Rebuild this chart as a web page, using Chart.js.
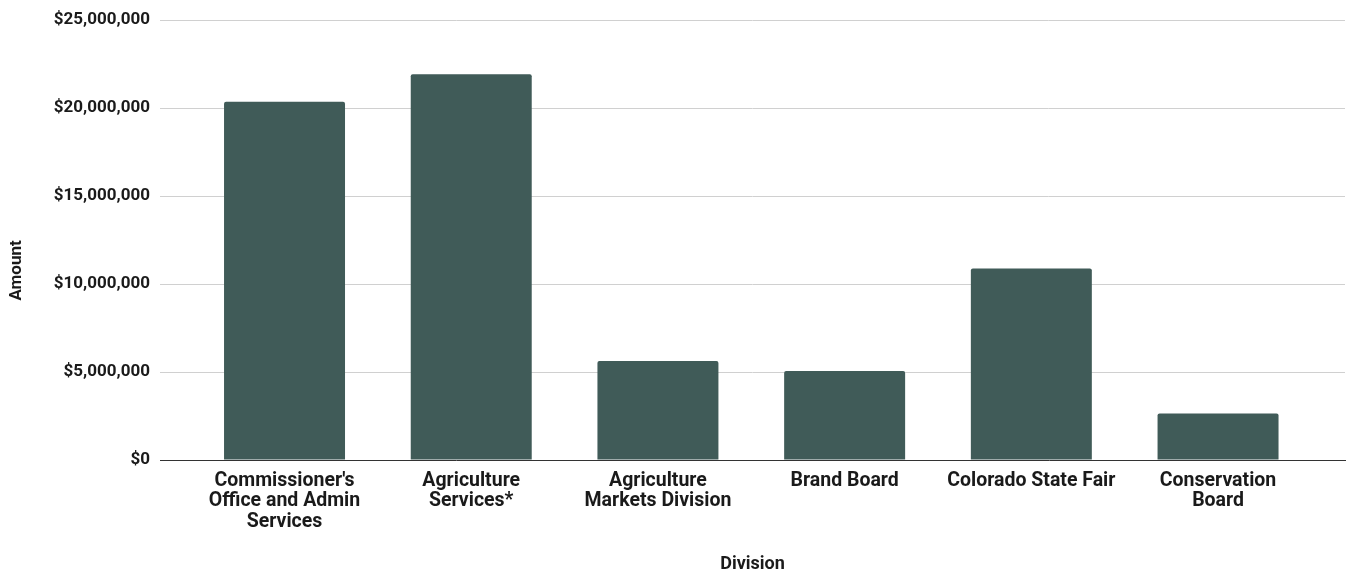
<!DOCTYPE html>
<html>
<head>
<meta charset="utf-8">
<script src="https://cdn.jsdelivr.net/npm/chart.js@4/dist/chart.umd.min.js"></script>
<style>
  html, body { margin: 0; padding: 0; background: #ffffff; }
  #wrap { width: 1348px; height: 573px; position: relative; }
</style>
</head>
<body>
<div id="wrap"><canvas id="c"></canvas></div>
<script>
const categories = [
  ["Commissioner's", "Office and Admin", "Services"],
  ["Agriculture", "Services*"],
  ["Agriculture", "Markets Division"],
  ["Brand Board"],
  ["Colorado State Fair"],
  ["Conservation", "Board"]
];
const amounts = [20370000, 21930000, 5630000, 5060000, 10890000, 2650000];
const yTicks = [0, 5000000, 10000000, 15000000, 20000000, 25000000];

const FONT = "Roboto, 'Liberation Sans', sans-serif";
const TEXT = '#1a1a1a';

new Chart(document.getElementById('c'), {
  type: 'bar',
  data: {
    datasets: [{
      label: 'Amount',
      data: amounts.map((v, i) => ({ x: i, y: v })),
      backgroundColor: '#405b58',
      borderRadius: 2,
      borderSkipped: 'start',
      categoryPercentage: 1,
      barPercentage: 0.648
    }]
  },
  options: {
    responsive: true,
    maintainAspectRatio: false,
    animation: false,
    layout: { padding: { top: 20, right: 3, bottom: 0, left: 0 } },
    plugins: { legend: { display: false }, tooltip: { enabled: false } },
    scales: {
      x: {
        type: 'linear',
        min: -0.667,
        max: 5.68,
        offset: false,
        afterBuildTicks: s => { s.ticks = categories.map((c, i) => ({ value: i })); },
        afterFit: s => { s.height = 113; },
        grid: { display: false, drawTicks: false },
        border: { display: true, color: '#333333', width: 1 },
        ticks: {
          autoSkip: false,
          maxRotation: 0,
          minRotation: 0,
          padding: 10.5,
          color: TEXT,
          font: { family: FONT, size: 19.5, weight: 'bold', lineHeight: 1.06 },
          callback: v => categories[Math.round(v)] || ''
        },
        title: {
          display: true,
          text: 'Division',
          color: TEXT,
          padding: { top: 0, bottom: 0 },
          font: { family: FONT, size: 18, weight: 'bold', lineHeight: 1.0 }
        }
      },
      y: {
        min: 0,
        max: 25000000,
        afterBuildTicks: s => { s.ticks = yTicks.map(v => ({ value: v })); },
        afterFit: s => { s.width = 160; },
        grid: { color: '#d0d0d0', lineWidth: 1, drawTicks: false },
        border: { display: false },
        ticks: {
          padding: 10,
          color: TEXT,
          font: { family: FONT, size: 17, weight: 'bold' },
          callback: v => '$' + Number(v).toLocaleString('en-US')
        },
        title: {
          display: true,
          text: 'Amount\u2003\u2003\u2003\u2002',
          color: TEXT,
          padding: { top: 8, bottom: 0 },
          font: { family: FONT, size: 17, weight: 'bold', lineHeight: 1.0 }
        }
      }
    }
  }
});
</script>
</body>
</html>
